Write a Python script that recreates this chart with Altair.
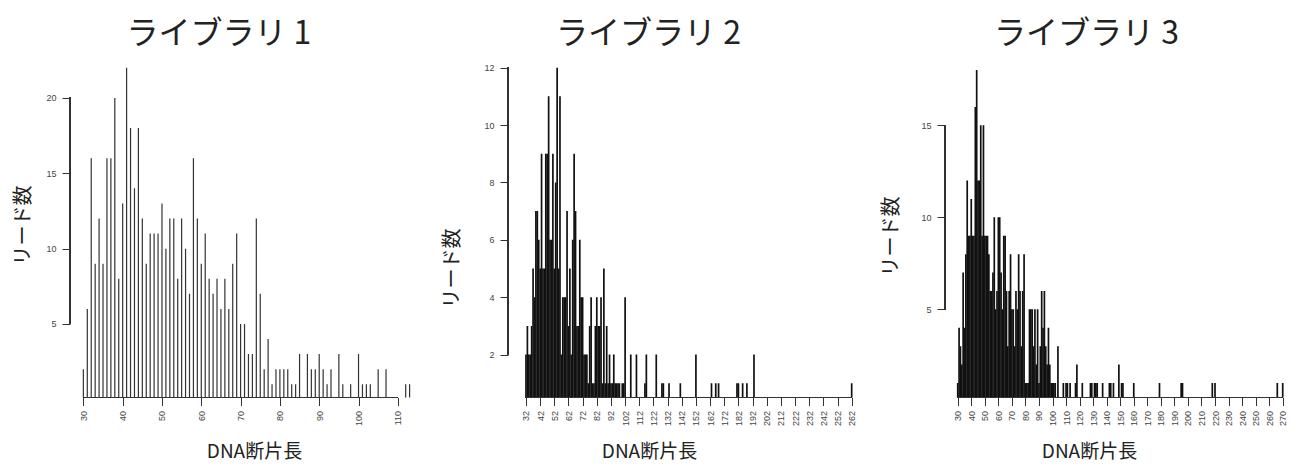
import altair as alt
import pandas as pd

# ---- Library 1 ----
lib1_len = [30, 31, 32, 33, 34, 35, 36, 37, 38, 39, 40, 41, 42, 43, 44, 45, 46, 47, 48, 49,
            50, 51, 52, 53, 54, 55, 56, 57, 58, 59, 60, 61, 62, 63, 64, 65, 66, 67, 68, 69,
            70, 71, 72, 73, 74, 75, 76, 77, 78, 79, 80, 81, 82, 83, 84, 85, 87, 88, 89, 90,
            91, 92, 93, 95, 96, 98, 100, 101, 102, 103, 105, 107, 112, 113]
lib1_cnt = [2, 6, 16, 9, 12, 9, 16, 16, 20, 8, 13, 22, 18, 14, 18, 12, 9, 11, 11, 11,
            13, 10, 12, 12, 8, 12, 10, 7, 16, 12, 9, 11, 8, 7, 8, 6, 8, 6, 9, 11,
            5, 5, 3, 3, 12, 7, 2, 4, 1, 2, 2, 2, 2, 1, 1, 3, 3, 2, 2, 3,
            2, 1, 2, 3, 1, 1, 3, 1, 1, 1, 2, 2, 1, 1]

# ---- Library 2 ----
lib2_len = [32, 33, 34, 35, 36, 37, 38, 39, 40, 41, 42, 43, 44, 45, 46, 47, 48, 49, 50, 51,
            52, 53, 54, 55, 56, 57, 58, 59, 60, 61, 62, 63, 64, 65, 66, 67, 68, 69, 70, 71,
            72, 73, 74, 75, 76, 77, 78, 79, 80, 81, 82, 83, 84, 85, 86, 87, 88, 89, 90, 91,
            92, 93, 94, 95, 96, 97, 98, 100, 101, 102, 106, 110, 116, 117, 124, 128, 129, 133,
            141, 152, 163, 166, 168, 181, 182, 185, 188, 193, 262]
lib2_cnt = [2, 3, 2, 2, 3, 5, 4, 7, 7, 6, 5, 9, 5, 5, 9, 9, 11, 6, 6, 9,
            5, 8, 12, 5, 11, 2, 4, 4, 4, 7, 3, 5, 2, 6, 9, 7, 3, 3, 6, 4,
            4, 2, 2, 2, 1, 3, 4, 1, 1, 3, 4, 3, 3, 4, 1, 5, 1, 3, 1, 2,
            1, 1, 2, 1, 1, 1, 1, 1, 1, 4, 2, 2, 1, 2, 2, 1, 1, 1,
            1, 2, 1, 1, 1, 1, 1, 1, 1, 2, 1]

# ---- Library 3 ----
lib3_len = [30, 31, 32, 33, 34, 35, 36, 37, 38, 39, 40, 41, 42, 43, 44, 45, 46, 47, 48, 49,
            50, 51, 52, 53, 54, 55, 56, 57, 58, 59, 60, 61, 62, 63, 64, 65, 66, 67, 68, 69,
            70, 71, 72, 73, 74, 75, 76, 77, 78, 79, 80, 81, 82, 83, 84, 85, 86, 87, 88, 89,
            90, 91, 92, 93, 94, 95, 96, 97, 98, 99, 100, 101, 102, 104, 108, 110, 111, 113,
            117, 118, 122, 128, 129, 131, 132, 133, 137, 142, 143, 145, 149, 151, 152, 160,
            179, 195, 196, 218, 220, 266, 270]
lib3_cnt = [1, 4, 3, 2, 7, 4, 8, 12, 9, 9, 11, 9, 9, 16, 18, 12, 12, 15, 9, 15,
            9, 9, 9, 8, 6, 6, 7, 10, 5, 6, 10, 10, 7, 5, 9, 9, 6, 3, 6, 8,
            5, 5, 3, 6, 5, 8, 6, 3, 6, 8, 1, 1, 1, 5, 5, 5, 3, 5, 2, 5,
            1, 3, 6, 4, 6, 3, 2, 4, 2, 1, 1, 1, 1, 3, 1, 1, 1, 1,
            1, 2, 1, 1, 1, 1, 1, 1, 1, 1, 1, 1, 2, 1, 1, 1,
            1, 1, 1, 1, 1, 1, 1]

titles = ["ライブラリ 1", "ライブラリ 2", "ライブラリ 3"]
y_title = "リード数"
x_title = "DNA断片長"

x_ticks = [
    [30, 40, 50, 60, 70, 80, 90, 100, 110],
    [32, 42, 52, 62, 72, 82, 92, 102, 112, 122, 132, 142, 152, 162, 172, 182, 192,
     202, 212, 222, 232, 242, 252, 262],
    [30, 40, 50, 60, 70, 80, 90, 100, 110, 120, 130, 140, 150, 160, 170, 180, 190,
     200, 210, 220, 230, 240, 250, 260, 270],
]
y_ticks = [[5, 10, 15, 20], [2, 4, 6, 8, 10, 12], [5, 10, 15]]

CJK = "Noto Sans CJK JP"
SANS = "Liberation Sans"
H = 342.5


def panel(lens, cnts, title, xdom, ydom, xt, yt, width, title_dx, ytx, yty, xtx,
          bar_color, bar_width):
    df = pd.DataFrame({"len": lens, "cnt": cnts})
    xs = alt.Scale(domain=xdom, nice=False, zero=False)
    ys = alt.Scale(domain=ydom, nice=False, zero=False)
    xaxis = alt.Axis(
        values=xt, domain=False, grid=False, tickSize=8, tickColor="#333",
        labelAngle=270, labelFontSize=9, labelFont=SANS, labelColor="#444",
        labelPadding=5, labelOverlap=False, labelFlush=False, labelBound=False,
        labelSeparation=0,
        title=x_title, titleFont=CJK, titleFontSize=19, titleFontWeight="normal",
        titleColor="#222", titleX=xtx, titleY=54, titleBaseline="middle",
        titleAlign="center")
    yaxis = alt.Axis(
        values=yt, domain=False, grid=False, tickSize=8, tickColor="#333",
        labelFontSize=9, labelFont=SANS, labelColor="#444", labelPadding=6,
        labelOverlap=False, labelFlush=False, labelBound=False,
        title=y_title, titleFont=CJK, titleFontSize=20, titleFontWeight="normal",
        titleColor="#222", titleX=ytx, titleY=yty, titleAngle=270,
        titleBaseline="middle", titleAlign="center")
    bars = alt.Chart(df).mark_rule(color=bar_color, strokeWidth=bar_width, clip=True).encode(
        x=alt.X("len:Q", scale=xs, axis=xaxis),
        y=alt.Y("cnt:Q", scale=ys, axis=yaxis),
        y2=alt.datum(0),
    )
    xline = alt.Chart(df).mark_rule(color="#333", strokeWidth=1).encode(
        x=alt.XDatum(xt[0], scale=xs, axis=xaxis), x2=alt.datum(xt[-1]),
        y=alt.YDatum(ydom[0], scale=ys, axis=yaxis))
    yline = alt.Chart(df).mark_rule(color="#333", strokeWidth=1).encode(
        x=alt.XDatum(xdom[0], scale=xs, axis=xaxis),
        y=alt.YDatum(yt[0], scale=ys, axis=yaxis), y2=alt.datum(yt[-1]))
    return alt.layer(bars, xline, yline).properties(
        width=width, height=H,
        title=alt.TitleParams(text=title, font=CJK, fontSize=32, fontWeight="normal",
                              color="#222", anchor="middle", dx=title_dx, offset=4),
    )


p1 = panel(lib1_len, lib1_cnt, titles[0], [26.6, 117.6], [0.12, 22.85],
           x_ticks[0], y_ticks[0], 357.7, -30, -47, 170, 184, "#333333", 1.2)
p2 = panel(lib2_len, lib2_cnt, titles[1], [19.3, 271.4], [0.505, 12.44],
           x_ticks[1], y_ticks[1], 357, -38, -56, 213, 141, "#111111", 1.7)
p3 = panel(lib3_len, lib3_cnt, titles[2], [20.6, 273.9], [0.21, 18.82],
           x_ticks[2], y_ticks[2], 343, -30, -54, 181, 144, "#111111", 1.7)

chart = alt.hconcat(p1, p2, p3, spacing=80, bounds="flush").properties(
    padding={"left": 5, "top": 10, "right": 0, "bottom": 0}
).configure_view(stroke=None)

chart.save("out.html", embed_options={"renderer": "svg", "actions": False})
